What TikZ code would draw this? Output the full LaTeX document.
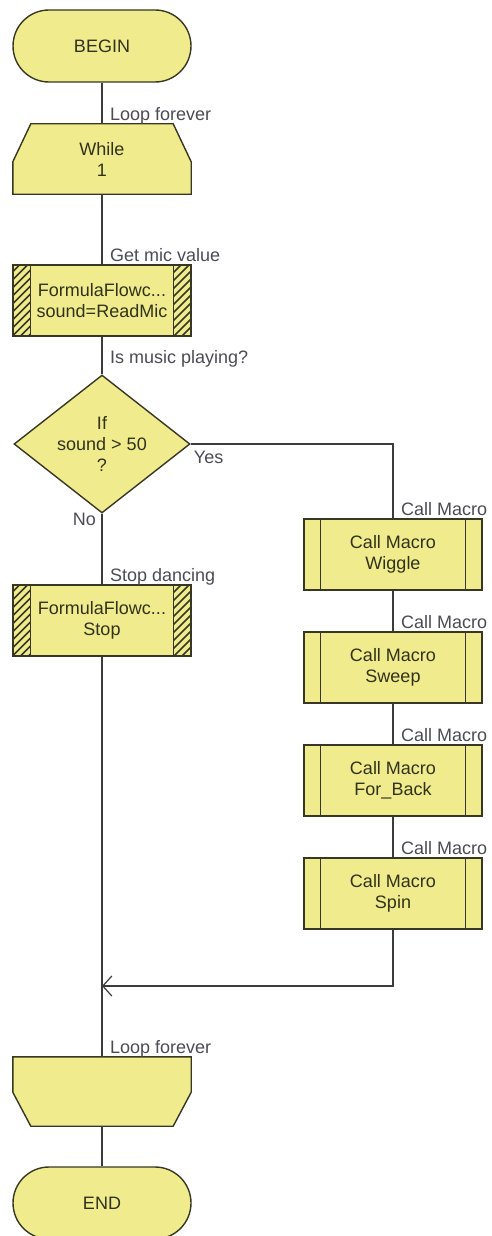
\documentclass[tikz,border=0pt]{standalone}
\usepackage{fontspec}
\setmainfont{Liberation Sans}
\usetikzlibrary{shapes.geometric,shapes.misc,arrows.meta,backgrounds}
\definecolor{flowfill}{RGB}{240,236,142}
\definecolor{flowedge}{RGB}{55,55,35}
\definecolor{flowtext}{RGB}{50,50,25}
\definecolor{flowlabel}{RGB}{75,75,85}
\definecolor{flowline}{RGB}{60,60,60}

\begin{document}
\begin{tikzpicture}[x=1pt,y=-1pt,
  every node/.style={font=\fontsize{18}{21}\selectfont, text=flowtext, align=center},
  termbox/.style={rounded rectangle, draw=flowedge, fill=flowfill, line width=1.4pt,
    minimum width=178pt, minimum height=72pt, inner sep=0pt},
  loopbox/.style={rectangle, minimum width=178pt, minimum height=70pt, inner sep=0pt},
  procbox/.style={rectangle, draw=flowedge, fill=flowfill, line width=1.4pt,
    minimum width=178pt, minimum height=71pt, inner sep=0pt},
  decbox/.style={diamond, draw=flowedge, fill=flowfill, line width=1.4pt, aspect=1.275,
    minimum width=176pt, minimum height=138pt, inner sep=0pt},
  loopshape/.style={draw=flowedge, fill=flowfill, line width=1.4pt},
  edgeline/.style={draw=flowedge, line width=1.4pt},
  hatch/.style={draw=flowedge, line width=1.6pt},
  link/.style={draw=flowline, line width=1.2pt},
  lbl/.style={text=flowlabel, inner sep=0pt}
]
\useasboundingbox (0,0) rectangle (491,1236);

% Main column
\node[termbox] (begin) at (102,46) {BEGIN};
\node[loopbox] (while) at (102,159) {While\\1};
\node[procbox] (getmic) at (102,300.5) {FormulaFlowc...\\sound=ReadMic};
\node[decbox] (ifsound) at (102,444) {If\\sound > 50\\?};
\node[procbox] (stop) at (102,620.5) {FormulaFlowc...\\Stop};
\node[loopbox, minimum height=69pt] (loopend) at (102,1091.5) {};
\node[termbox] (end) at (102,1203) {END};

% Macro column
\node[procbox] (wiggle) at (393,554.5) {Call Macro\\Wiggle};
\node[procbox] (sweep) at (393,667.5) {Call Macro\\Sweep};
\node[procbox] (forback) at (393,780.5) {Call Macro\\For\_Back};
\node[procbox] (spin) at (393,893.5) {Call Macro\\Spin};

% Loop shapes
\begin{scope}[on background layer]
\draw[loopshape] ([xshift=18pt]while.north west) -- ([xshift=-18pt]while.north east)
  -- ([yshift=-38pt]while.north east) -- (while.south east) -- (while.south west)
  -- ([yshift=-38pt]while.north west) -- cycle;
\draw[loopshape] (loopend.north west) -- (loopend.north east)
  -- ([yshift=34pt]loopend.south east) -- ([xshift=-18pt]loopend.south east)
  -- ([xshift=18pt]loopend.south west) -- ([yshift=34pt]loopend.south west) -- cycle;
\end{scope}

% Hatched sides
\foreach \n in {getmic,stop}{
  \begin{scope}
    \clip ([xshift=0.7pt,yshift=-0.7pt]\n.north west) rectangle ([xshift=18pt,yshift=0.7pt]\n.south west);
    \foreach \k in {0,...,11}
      \draw[hatch] ([yshift=-\k*8pt]\n.north west) -- ++(26pt,26pt);
  \end{scope}
  \begin{scope}
    \clip ([xshift=-18pt,yshift=-0.7pt]\n.north east) rectangle ([xshift=-0.7pt,yshift=0.7pt]\n.south east);
    \foreach \k in {0,...,11}
      \draw[hatch] ([xshift=-18pt,yshift=-\k*8pt]\n.north east) -- ++(26pt,26pt);
  \end{scope}
  \draw[edgeline] ([xshift=18pt]\n.north west) -- ([xshift=18pt]\n.south west);
  \draw[edgeline] ([xshift=-18pt]\n.north east) -- ([xshift=-18pt]\n.south east);
}

% Macro sides
\foreach \n in {wiggle,sweep,forback,spin}{
  \draw[edgeline] ([xshift=17pt]\n.north west) -- ([xshift=17pt]\n.south west);
  \draw[edgeline] ([xshift=-17pt]\n.north east) -- ([xshift=-17pt]\n.south east);
}

% Connectors
\coordinate (merge) at (102,986);
\draw[link] (begin.south) -- (while.north);
\draw[link] (while.south) -- (getmic.north);
\draw[link] (getmic.south) -- (ifsound.north);
\draw[link] (ifsound.south) -- (stop.north);
\draw[link] (stop.south) -- (loopend.north);
\draw[link] (loopend.south) -- (end.north);
\draw[link] (ifsound.east) -| (wiggle.north);
\draw[link] (wiggle.south) -- (sweep.north);
\draw[link] (sweep.south) -- (forback.north);
\draw[link] (forback.south) -- (spin.north);
\draw[link, -{Straight Barb[length=9pt,width=20pt,line width=1.2pt]}] (spin.south) |- (merge);

% Labels
\node[lbl, anchor=base west] (lblwhile) at ([xshift=8pt,yshift=3pt]while.north) {Loop forever};
\node[lbl, anchor=base west] (lblgetmic) at ([xshift=8pt,yshift=3pt]getmic.north) {Get mic value};
\node[lbl, anchor=base west] (lblif) at ([xshift=8pt,yshift=11pt]ifsound.north) {Is music playing?};
\node[lbl, anchor=base west] (lblyes) at ([xshift=3pt,yshift=-19pt]ifsound.east) {Yes};
\node[lbl, anchor=base east] (lblno) at ([xshift=-6pt,yshift=-12pt]ifsound.south) {No};
\node[lbl, anchor=base west] (lblstop) at ([xshift=8pt,yshift=3pt]stop.north) {Stop dancing};
\foreach \n in {wiggle,sweep,forback,spin}
  \node[lbl, anchor=base west] (lbl\n) at ([xshift=8pt,yshift=3pt]\n.north) {Call Macro};
\node[lbl, anchor=base west] (lblloopend) at ([xshift=8pt,yshift=3pt]loopend.north) {Loop forever};
\end{tikzpicture}
\end{document}
